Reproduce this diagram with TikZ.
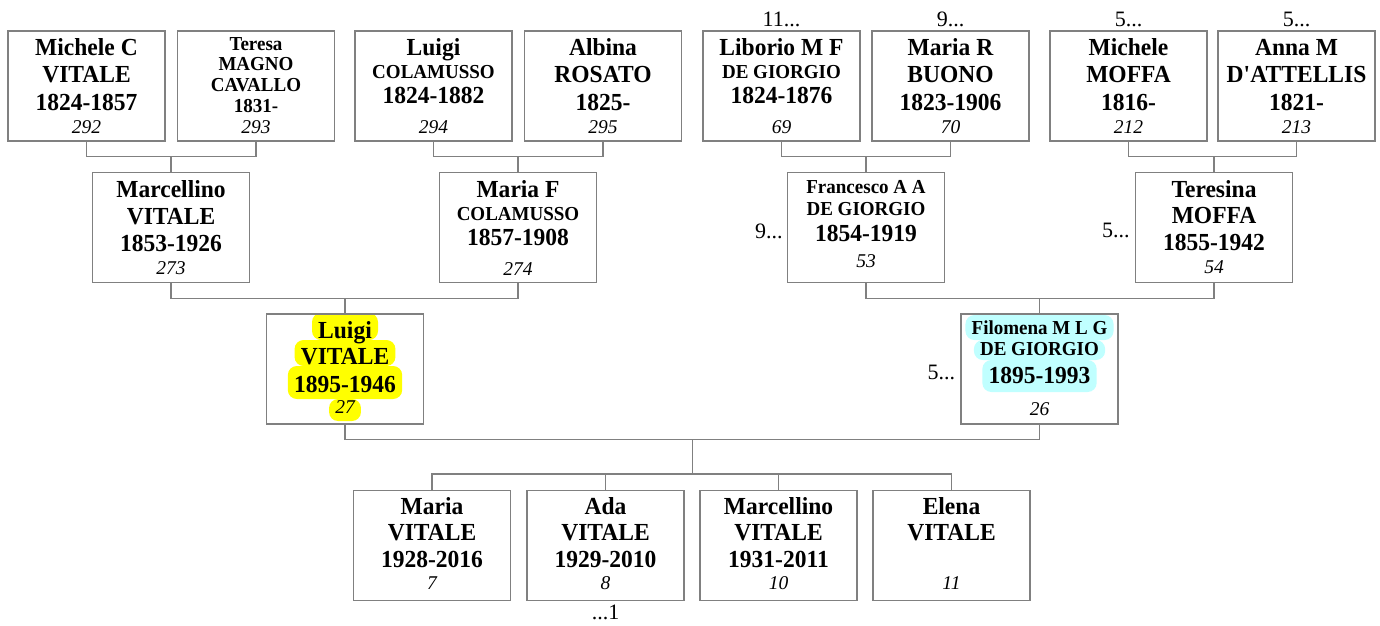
\documentclass[tikz,border=0pt]{standalone}
\usepackage{fontspec}
\setmainfont{Liberation Serif}[BoldFeatures={FakeStretch=0.96}]
\usetikzlibrary{calc}
\pgfdeclarelayer{bgwhite}
\pgfdeclarelayer{hilite}
\pgfsetlayers{bgwhite,hilite,main}
\definecolor{lc}{RGB}{128,128,128}
\definecolor{hly}{RGB}{255,255,0}
\definecolor{hlc}{RGB}{192,255,255}
\tikzset{
 pbox/.style={draw=lc, line width=1.4pt, minimum width=157pt, minimum height=110pt, inner sep=0pt},
 conn/.style={draw=lc, line width=1.4pt},
 tl/.style={anchor=base, inner sep=0pt},
 big/.style={tl, font=\fontsize{24.5}{27}\selectfont\bfseries},
 med/.style={tl, font=\fontsize{19.8}{22}\selectfont\bfseries},
 num/.style={tl, font=\fontsize{19.5}{22}\selectfont\itshape},
 dots/.style={tl, font=\fontsize{22}{24}\selectfont},
}
\newcommand\hlline[4]{\begin{pgfonlayer}{hilite}\fill[#1, rounded corners=9pt] ([xshift=-6pt,yshift=#3pt]#2.base west) rectangle ([xshift=6pt,yshift=-#4pt]#2.base east);\end{pgfonlayer}}
\begin{document}
\begin{tikzpicture}[x=1pt,y=-1pt]
\begin{pgfonlayer}{bgwhite}
\fill[white] (0,0) rectangle (1380,625);
\end{pgfonlayer}
\useasboundingbox (0,0) rectangle (1380,625);
% ---------- top row ----------
\node[pbox] (mc) at (86.5,86) {};
\node[pbox] (tm) at (256,86) {};
\node[pbox] (lc) at (433.5,86) {};
\node[pbox] (ar) at (603,86) {};
\node[pbox] (lg) at (781.5,86) {};
\node[pbox] (mb) at (950.5,86) {};
\node[pbox] (mm) at (1128.5,86) {};
\node[pbox] (ad) at (1296.5,86) {};
% Michele C
\node[big] (mc1) at (86.5,55.5) {Michele C};
\node[big] (mc2) at (86.5,82) {VITALE};
\node[big] (mc3) at (86.5,110) {1824-1857};
\node[num] (mc4) at (86.5,133) {292};
% Teresa
\node[med] (tm1) at (256,50) {Teresa};
\node[med] (tm2) at (256,70) {MAGNO};
\node[med] (tm3) at (256,91.5) {CAVALLO};
\node[med] (tm4) at (256,112.5) {1831-};
\node[num] (tm5) at (256,133) {293};
% Luigi Colamusso
\node[big] (lc1) at (433.5,55) {Luigi};
\node[med] (lc2) at (433.5,78) {COLAMUSSO};
\node[big] (lc3) at (433.5,103) {1824-1882};
\node[num] (lc4) at (433.5,133) {294};
% Albina
\node[big] (ar1) at (603,55) {Albina};
\node[big] (ar2) at (603,82) {ROSATO};
\node[big] (ar3) at (603,110) {1825-};
\node[num] (ar4) at (603,133) {295};
% Liborio
\node[big] (lg1) at (781.5,55) {Liborio M F};
\node[med] (lg2) at (781.5,78) {DE GIORGIO};
\node[big] (lg3) at (781.5,103) {1824-1876};
\node[num] (lg4) at (781.5,133) {69};
% Maria R
\node[big] (mb1) at (950.5,55) {Maria R};
\node[big] (mb2) at (950.5,82) {BUONO};
\node[big] (mb3) at (950.5,110) {1823-1906};
\node[num] (mb4) at (950.5,133) {70};
% Michele Moffa
\node[big] (mm1) at (1128.5,55) {Michele};
\node[big] (mm2) at (1128.5,82) {MOFFA};
\node[big] (mm3) at (1128.5,110) {1816-};
\node[num] (mm4) at (1128.5,133) {212};
% Anna M
\node[big] (ad1) at (1296.5,55) {Anna M};
\node[big] (ad2) at (1296.5,82) {D\textquotesingle ATTELLIS};
\node[big] (ad3) at (1296.5,110) {1821-};
\node[num] (ad4) at (1296.5,133) {213};
% dots above
\node[dots] (dlg) at (781.5,26) {11...};
\node[dots] (dmb) at (950.5,26) {9...};
\node[dots] (dmm) at (1128.5,26) {5...};
\node[dots] (dad) at (1296.5,26) {5...};
% ---------- second row ----------
\node[pbox] (ma) at (171,227.5) {};
\node[pbox] (mf) at (518,227.5) {};
\node[pbox] (fg) at (866,227.5) {};
\node[pbox] (tf) at (1214,227.5) {};
\node[big] (ma1) at (171,197) {Marcellino};
\node[big] (ma2) at (171,224) {VITALE};
\node[big] (ma3) at (171,251) {1853-1926};
\node[num] (ma4) at (171,274) {273};
\node[big] (mf1) at (518,197) {Maria F};
\node[med] (mf2) at (518,220) {COLAMUSSO};
\node[big] (mf3) at (518,245) {1857-1908};
\node[num] (mf4) at (518,275) {274};
\node[med] (fg1) at (866,193) {Francesco A A};
\node[med] (fg2) at (866,215) {DE GIORGIO};
\node[big] (fg3) at (866,241) {1854-1919};
\node[num] (fg4) at (866,267) {53};
\node[big] (tf1) at (1214,197) {Teresina};
\node[big] (tf2) at (1214,223) {MOFFA};
\node[big] (tf3) at (1214,250) {1855-1942};
\node[num] (tf4) at (1214,273) {54};
\node[dots, anchor=base east] (dfg) at ([xshift=-4pt]fg.west |- 0,238) {9...};
\node[dots, anchor=base east] (dtf) at ([xshift=-5pt]tf.west |- 0,237) {5...};
% ---------- third row ----------
\node[pbox] (lv) at (345,369) {};
\node[pbox] (fd) at (1039.5,369) {};
\node[big] (lv1) at (345,338) {Luigi};
\node[big] (lv2) at (345,364) {VITALE};
\node[big] (lv3) at (345,392) {1895-1946};
\node[num] (lv4) at (345,413) {27};
\hlline{hly}{lv1}{25}{2}
\hlline{hly}{lv2}{24}{2}
\hlline{hly}{lv3}{26}{7}
\hlline{hly}{lv4}{14}{8}
\node[med] (fd1) at (1039.5,334) {Filomena M L G};
\node[med] (fd2) at (1039.5,355) {DE GIORGIO};
\node[big] (fd3) at (1039.5,383) {1895-1993};
\node[num] (fd4) at (1039.5,415) {26};
\hlline{hlc}{fd1}{19}{6}
\hlline{hlc}{fd2}{15}{5}
\hlline{hlc}{fd3}{23}{9}
\node[dots, anchor=base east] (dfd) at ([xshift=-5pt]fd.west |- 0,379) {5...};
% ---------- children ----------
\node[pbox] (c1) at (432,545.5) {};
\node[pbox] (c2) at (605.5,545.5) {};
\node[pbox] (c3) at (778.5,545.5) {};
\node[pbox] (c4) at (951.5,545.5) {};
\node[big] (c11) at (432,514) {Maria};
\node[big] (c12) at (432,540) {VITALE};
\node[big] (c13) at (432,567) {1928-2016};
\node[num] (c14) at (432,589) {7};
\node[big] (c21) at (605.5,514) {Ada};
\node[big] (c22) at (605.5,540) {VITALE};
\node[big] (c23) at (605.5,567) {1929-2010};
\node[num] (c24) at (605.5,589) {8};
\node[big] (c31) at (778.5,514) {Marcellino};
\node[big] (c32) at (778.5,540) {VITALE};
\node[big] (c33) at (778.5,567) {1931-2011};
\node[num] (c34) at (778.5,589) {10};
\node[big] (c41) at (951.5,514) {Elena};
\node[big] (c42) at (951.5,540) {VITALE};
\node[num] (c44) at (951.5,589) {11};
\node[dots] (dc2) at (605.5,619) {...1};
% ---------- connectors ----------
\draw[conn] (mc.south) -- ++(0,15) coordinate (j1) -| (tm.south);
\draw[conn] (ma.north) -- (ma.north |- j1);
\draw[conn] (lc.south) -- ++(0,15) coordinate (j2) -| (ar.south);
\draw[conn] (mf.north) -- (mf.north |- j2);
\draw[conn] (lg.south) -- ++(0,15) coordinate (j3) -| (mb.south);
\draw[conn] (fg.north) -- (fg.north |- j3);
\draw[conn] (mm.south) -- ++(0,15) coordinate (j4) -| (ad.south);
\draw[conn] (tf.north) -- (tf.north |- j4);
\draw[conn] (ma.south) -- ++(0,15) coordinate (j5) -| (mf.south);
\draw[conn] (lv.north) -- (lv.north |- j5);
\draw[conn] (fg.south) -- ++(0,15) coordinate (j6) -| (tf.south);
\draw[conn] (fd.north) -- (fd.north |- j6);
\draw[conn] (lv.south) -- ++(0,15) coordinate (j7) -| (fd.south);
\coordinate (pm) at ($(j7)!0.5!(j7 -| fd.south)$);
\draw[conn] (c1.north) -- ++(0,-16) coordinate (j8) -| (c4.north);
\draw[conn] (c2.north) -- (c2.north |- j8);
\draw[conn] (c3.north) -- (c3.north |- j8);
\draw[conn] (pm) -- (pm |- j8);
\end{tikzpicture}
\end{document}
